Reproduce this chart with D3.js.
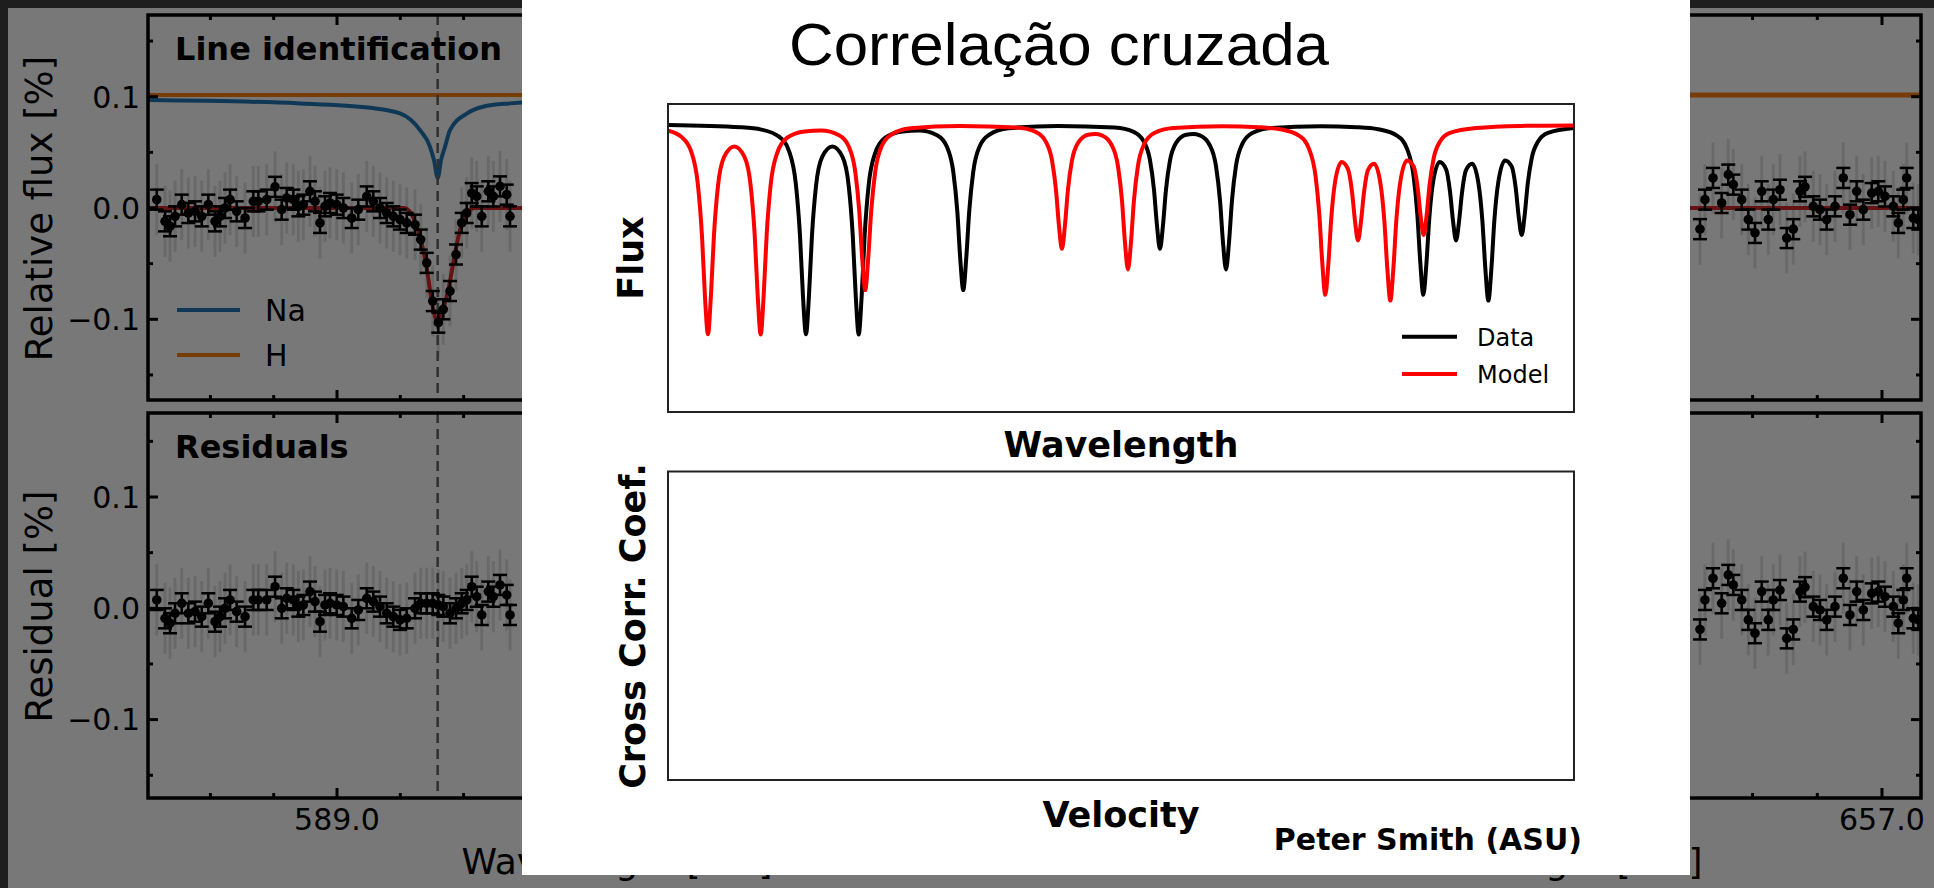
<!DOCTYPE html>
<meta charset="utf-8">
<style>
  body { margin: 0; background: #1e1e1e; }
  svg { display: block; }
  text { font-family: "DejaVu Sans", sans-serif; }
</style>
<body>
<svg id="chart" width="1934" height="888"></svg>
<script src="https://d3js.org/d3.v7.min.js"></script>
<script>
// ---------------- slide (foreground) ----------------
var titleText = "Correlação cruzada";
var creditText = "Peter Smith (ASU)";
var legendNames = ["Data", "Model"];
var legendColors = ["#000000", "#ff0000"];

// observed spectrum [wavelength (arb.), normalised flux]
var dataSpectrum = [
  [0, 1.0], [8, 0.991], [10.3, 0.982], [12.3, 0.954], [13.4, 0.896], [14.1, 0.777],
  [14.57, 0.576], [14.9, 0.342], [15.23, 0.198], [15.56, 0.347], [15.89, 0.576],
  [16.33, 0.764], [17.03, 0.878], [18.14, 0.917], [19.25, 0.878], [19.95, 0.765],
  [20.39, 0.578], [20.72, 0.346], [21.05, 0.197], [21.38, 0.347], [21.71, 0.579],
  [22.15, 0.770], [22.85, 0.89], [23.95, 0.95], [25.9, 0.975], [27.7, 0.978],
  [29.7, 0.96], [30.8, 0.915], [31.49, 0.82], [31.93, 0.67], [32.26, 0.486],
  [32.59, 0.367], [32.92, 0.49], [33.25, 0.67], [33.69, 0.82], [34.39, 0.917],
  [35.49, 0.963], [37.59, 0.987], [43, 0.996], [49.3, 0.99], [51.4, 0.973],
  [52.5, 0.937], [53.2, 0.865], [53.64, 0.752], [53.97, 0.615], [54.3, 0.525],
  [54.63, 0.614], [54.96, 0.75], [55.4, 0.862], [56.1, 0.932], [57.2, 0.962],
  [57.95, 0.965], [58.7, 0.96], [59.8, 0.922], [60.49, 0.841], [60.93, 0.71],
  [61.26, 0.549], [61.59, 0.446], [61.92, 0.55], [62.25, 0.711], [62.69, 0.843],
  [63.39, 0.927], [64.49, 0.969], [66.6, 0.988], [72, 0.995], [76, 0.991],
  [78.4, 0.983], [80.5, 0.958], [81.6, 0.906], [82.3, 0.802], [82.71, 0.656],
  [83.04, 0.47], [83.37, 0.349], [83.7, 0.464], [84.03, 0.643], [84.47, 0.786],
  [85.175, 0.858], [85.88, 0.83], [86.32, 0.743], [86.65, 0.631], [86.98, 0.557],
  [87.31, 0.63], [87.64, 0.741], [88.08, 0.827], [88.765, 0.851], [89.45, 0.777],
  [89.89, 0.631], [90.22, 0.447], [90.55, 0.327], [90.88, 0.448], [91.21, 0.634],
  [91.65, 0.782], [92.39, 0.864], [93.13, 0.84], [93.57, 0.757], [93.9, 0.648],
  [94.23, 0.578], [94.56, 0.656], [94.89, 0.774], [95.33, 0.872], [96.03, 0.936],
  [97.13, 0.969], [100, 0.988]
];

// template (model) spectrum, same lines sitting bluer
var modelSpectrum = [
  [0, 0.978], [1.48, 0.954], [2.58, 0.896], [3.28, 0.777], [3.75, 0.576],
  [4.08, 0.342], [4.41, 0.198], [4.74, 0.347], [5.07, 0.576], [5.51, 0.764],
  [6.21, 0.878], [7.32, 0.917], [8.43, 0.878], [9.13, 0.765], [9.57, 0.578],
  [9.9, 0.346], [10.23, 0.197], [10.56, 0.347], [10.89, 0.579], [11.33, 0.770],
  [12.03, 0.89], [13.13, 0.95], [15.08, 0.975], [16.88, 0.978], [18.88, 0.96],
  [19.98, 0.915], [20.67, 0.82], [21.11, 0.67], [21.44, 0.486], [21.77, 0.367],
  [22.1, 0.49], [22.43, 0.67], [22.87, 0.82], [23.57, 0.917], [24.67, 0.963],
  [26.77, 0.987], [32.18, 0.996], [38.48, 0.99], [40.58, 0.973], [41.68, 0.937],
  [42.38, 0.865], [42.82, 0.752], [43.15, 0.615], [43.48, 0.525], [43.81, 0.614],
  [44.14, 0.75], [44.58, 0.862], [45.28, 0.932], [46.38, 0.962], [47.13, 0.965],
  [47.88, 0.96], [48.98, 0.922], [49.67, 0.841], [50.11, 0.71], [50.44, 0.549],
  [50.77, 0.446], [51.1, 0.55], [51.43, 0.711], [51.87, 0.843], [52.57, 0.927],
  [53.67, 0.969], [55.78, 0.988], [61.18, 0.995], [65.18, 0.991], [67.58, 0.983],
  [69.68, 0.958], [70.78, 0.906], [71.48, 0.802], [71.89, 0.656], [72.22, 0.47],
  [72.55, 0.349], [72.88, 0.464], [73.21, 0.643], [73.65, 0.786], [74.355, 0.858],
  [75.06, 0.83], [75.5, 0.743], [75.83, 0.631], [76.16, 0.557], [76.49, 0.63],
  [76.82, 0.741], [77.26, 0.827], [77.945, 0.851], [78.63, 0.777], [79.07, 0.631],
  [79.4, 0.447], [79.73, 0.327], [80.06, 0.448], [80.39, 0.634], [80.83, 0.782],
  [81.57, 0.864], [82.31, 0.84], [82.75, 0.757], [83.08, 0.648], [83.41, 0.578],
  [83.74, 0.656], [84.07, 0.774], [84.51, 0.872], [85.21, 0.936], [86.31, 0.969],
  [89.18, 0.988], [94.18, 0.996], [100, 0.998]
];

// ---------------- dimmed figure behind the slide ----------------
var bgTitles = ["Line identification", "Residuals"];
var bgYLabels = ["Relative flux [%]", "Residual [%]"];
var bgXLabel = "Wavelength [nm]";
var bgXTickLabels = [[589.0], [657.0]];
var legendBg = ["Na", "H"];

// Na D region, binned points
var naWave = [588.7152, 588.7283, 588.7362, 588.7441, 588.7547, 588.7651, 588.7757, 588.7863,
  588.7967, 588.8073, 588.8152, 588.8231, 588.8310, 588.8415, 588.8547, 588.8678, 588.8757,
  588.8889, 588.9021, 588.9126, 588.9205, 588.9310, 588.9389, 588.9468, 588.9573, 588.9652,
  588.9731, 588.9810, 588.9889, 588.9995, 589.0100, 589.0232, 589.0336, 589.0469, 589.0573,
  589.0679, 589.0785, 589.0889, 589.0995, 589.1101, 589.1232, 589.1322, 589.1417, 589.1512,
  589.1600, 589.1679, 589.1785, 589.1880, 589.1970, 589.2049, 589.2128, 589.2207, 589.2286,
  589.2390, 589.2469, 589.2575, 589.2681, 589.2733];
var naFlux = [0.0075, -0.012, -0.0164, -0.0075, 0.003, -0.0045, -0.003, -0.0075, 0.003, -0.012,
  -0.0075, 0, 0.0075, -0.003, -0.009, 0.006, 0.006, 0.0075, 0.019, -0.0015, 0.009, 0.0075,
  0.0015, 0.003, 0.015, 0.006, -0.0134, 0.0015, 0.0045, 0.003, 0, -0.009, -0.0015, 0.0104,
  0.006, 0, -0.0045, -0.0075, -0.0104, -0.0134, -0.015, -0.0284, -0.0493, -0.0836, -0.103,
  -0.091, -0.0746, -0.0418, -0.0134, -0.0045, 0.0134, 0.0104, -0.0075, 0.015, 0.0104, 0.0194,
  0.012, -0.0075];
var naResid = [0.0075, -0.009, -0.0134, -0.0045, 0.0045, -0.0045, -0.003, -0.0075, 0.0045, -0.012,
  -0.0075, 0, 0.0075, -0.003, -0.0075, 0.0075, 0.0075, 0.0075, 0.0194, 0, 0.009, 0.0075,
  0.0015, 0.003, 0.015, 0.006, -0.012, 0.003, 0.0045, 0.003, 0.0015, -0.009, -0.0015, 0.009,
  0.006, 0.0015, -0.0045, -0.0075, -0.0104, -0.009, 0, 0.0045, 0.0045, 0.0045, 0.003,
  0.0015, -0.0045, 0, 0.0045, 0.0075, 0.0194, 0.0104, -0.006, 0.015, 0.0104, 0.021,
  0.012, -0.006];
var naModel = [[588.70, 0], [589.107, 0], [589.123, -0.012], [589.133, -0.03], [589.142, -0.055],
  [589.150, -0.085], [589.159, -0.102], [589.167, -0.092], [589.177, -0.07], [589.186, -0.042],
  [589.196, -0.016], [589.205, -0.004], [589.218, 0], [590.19, 0]];
var naLine = [[588.70, 0.097], [588.9416, 0.094], [589.0521, 0.090], [589.0995, 0.085],
  [589.1311, 0.070], [589.1469, 0.055], [589.1532, 0.043], [589.1591, 0.027], [589.1643, 0.043],
  [589.1706, 0.055], [589.1785, 0.070], [589.2054, 0.085], [589.2306, 0.091], [589.2733, 0.094],
  [589.3523, 0.096], [590.19, 0.098]];
var naCore = 589.159;
var hLevel = 0.1015;

// H-alpha region, binned points (model is flat there, so residual = flux)
var haWave = [656.7187, 656.7264, 656.7388, 656.7522, 656.7624, 656.7702, 656.7832, 656.7934,
  656.8037, 656.8141, 656.8243, 656.8320, 656.8423, 656.8527, 656.8629, 656.8733, 656.8810,
  656.8938, 656.9042, 656.9145, 656.9274, 656.9402, 656.9505, 656.9609, 656.9711, 656.9841,
  656.9943, 657.0046, 657.0175, 657.0252, 657.0329, 657.0382, 657.0484, 657.0561];
var haFlux = [-0.019, 0.0075, 0.027, 0.0045, 0.03, 0.021, 0.0075, -0.0104, -0.0224, 0.015,
  -0.0104, 0.0075, 0.0164, -0.027, -0.019, 0.015, 0.019, 0.0015, -0.0015, -0.0104, 0.0015,
  0.027, -0.006, 0.015, -0.0015, 0.0134, 0.015, 0.0104, 0.0015, -0.0134, 0.0075, 0.027,
  -0.009, -0.0104];
var binErr = 0.009;

var yTickMajor = [-0.1, 0, 0.1];
var yTickMinor = [-0.15, -0.05, 0.05, 0.15];

var W = 1934, H = 888;
var svg = d3.select("#chart");
var defs = svg.append("defs");
svg.append("rect").attr("width", W).attr("height", H).attr("fill", "#1e1e1e");

var bg = svg.append("g");
bg.append("rect").attr("x", 8).attr("y", 8).attr("width", W - 8).attr("height", H - 8).attr("fill", "#fff");

var cols = [
  {x: d3.scaleLinear().domain([588.7014, 590.1832]).range([148, 1086]), wave: naWave, flux: naFlux, resid: naResid},
  {x: d3.scaleLinear().domain([655.9042, 657.0603]).range([1173, 1921]), wave: haWave, flux: haFlux, resid: haFlux}
];
var rows = [
  {y: d3.scaleLinear().domain([-0.1, 0.1]).range([319.3, 96.7]), top: 15, bottom: 400},
  {y: d3.scaleLinear().domain([-0.1, 0.1]).range([719.6, 497]), top: 413, bottom: 798}
];

function stepTicks(dom, step) {
  return d3.range(Math.ceil(dom[0] / step - 1e-6), Math.floor(dom[1] / step + 1e-6) + 1)
    .map(function(k) { return +(k * step).toFixed(4); });
}

var fmt = d3.format(".1f");

rows.forEach(function(r, ri) {
  cols.forEach(function(c, ci) {
    var x = c.x, y = r.y;
    var x0 = x.range()[0], x1 = x.range()[1];
    var id = "bgclip" + ri + ci;
    defs.append("clipPath").attr("id", id).append("rect")
      .attr("x", x0).attr("y", r.top).attr("width", x1 - x0).attr("height", r.bottom - r.top);
    var g = bg.append("g").attr("clip-path", "url(#" + id + ")");
    var vals = ri == 0 ? c.flux : c.resid;
    var pts = c.wave.map(function(w, i) { return [w, vals[i]]; });

    // unbinned scatter, drawn faint
    g.selectAll(".raw").data(pts).enter().append("line")
      .attr("x1", function(d) { return x(d[0]); }).attr("x2", function(d) { return x(d[0]); })
      .attr("y1", function(d) { return y(d[1] - 0.032); }).attr("y2", function(d) { return y(d[1] + 0.032); })
      .attr("stroke", "#000").attr("stroke-opacity", 0.12).attr("stroke-width", 3);

    if (ri == 0) {
      var line = d3.line().x(function(d) { return x(d[0]); }).y(function(d) { return y(d[1]); }).curve(d3.curveMonotoneX);
      if (ci == 0) {
        g.append("path").datum(naLine).attr("d", line).attr("fill", "none").attr("stroke", "#1f77b4").attr("stroke-width", 4);
        g.append("path").datum(naModel).attr("d", line).attr("fill", "none").attr("stroke", "#d62728").attr("stroke-width", 4);
      } else {
        g.append("path").datum(x.domain().map(function(w) { return [w, 0]; })).attr("d", line)
          .attr("fill", "none").attr("stroke", "#d62728").attr("stroke-width", 4);
      }
      g.append("path").datum(x.domain().map(function(w) { return [w, hLevel]; })).attr("d", line)
        .attr("fill", "none").attr("stroke", "#ff7f0e").attr("stroke-width", ci == 0 ? 4 : 5);
    }

    if (ci == 0) {
      g.append("line").attr("x1", x(naCore)).attr("x2", x(naCore)).attr("y1", r.top).attr("y2", r.bottom)
        .attr("stroke", "#666").attr("stroke-width", 2.5).attr("stroke-dasharray", "10,6");
    }

    // error bars + points
    var eb = g.selectAll(".eb").data(pts).enter().append("g");
    eb.append("line")
      .attr("x1", function(d) { return x(d[0]); }).attr("x2", function(d) { return x(d[0]); })
      .attr("y1", function(d) { return y(d[1] - binErr); }).attr("y2", function(d) { return y(d[1] + binErr); })
      .attr("stroke", "#000").attr("stroke-width", 2.5);
    [-binErr, binErr].forEach(function(e) {
      eb.append("line")
        .attr("x1", function(d) { return x(d[0]) - 7; }).attr("x2", function(d) { return x(d[0]) + 7; })
        .attr("y1", function(d) { return y(d[1] + e); }).attr("y2", function(d) { return y(d[1] + e); })
        .attr("stroke", "#000").attr("stroke-width", 2.5);
    });
    eb.append("circle").attr("cx", function(d) { return x(d[0]); }).attr("cy", function(d) { return y(d[1]); })
      .attr("r", 4.8).attr("fill", "#000");

    // spines
    bg.append("rect").attr("x", x0).attr("y", r.top).attr("width", x1 - x0).attr("height", r.bottom - r.top)
      .attr("fill", "none").attr("stroke", "#000").attr("stroke-width", 3.5);

    // inward ticks on all four sides
    var tk = bg.append("g").attr("stroke", "#000").attr("stroke-width", 3);
    var xMinor = stepTicks(x.domain(), 0.1), xMajor = stepTicks(x.domain(), 0.5);
    xMinor.forEach(function(t) {
      var len = xMajor.indexOf(t) >= 0 ? 10 : 5;
      tk.append("line").attr("x1", x(t)).attr("x2", x(t)).attr("y1", r.top).attr("y2", r.top + len);
      tk.append("line").attr("x1", x(t)).attr("x2", x(t)).attr("y1", r.bottom).attr("y2", r.bottom - len);
    });
    yTickMajor.concat(yTickMinor).forEach(function(t) {
      var len = yTickMajor.indexOf(t) >= 0 ? 10 : 5;
      tk.append("line").attr("y1", y(t)).attr("y2", y(t)).attr("x1", x0).attr("x2", x0 + len);
      tk.append("line").attr("y1", y(t)).attr("y2", y(t)).attr("x1", x1).attr("x2", x1 - len);
    });

    if (ci == 0) {
      bg.selectAll(null).data(yTickMajor).enter().append("text")
        .attr("x", 140).attr("y", function(d) { return y(d); }).attr("dy", "0.36em")
        .attr("text-anchor", "end").style("font-size", "30px").attr("fill", "#000")
        .text(fmt);
      bg.append("text").attr("transform", "translate(52," + ((r.top + r.bottom) / 2 + 1) + ") rotate(-90)")
        .attr("text-anchor", "middle").style("font-size", "37px").attr("fill", "#000").text(bgYLabels[ri]);
      bg.append("text").attr("x", 175).attr("y", r.top + 45).style("font-size", "32px").style("font-weight", "bold")
        .attr("fill", "#000").text(bgTitles[ri]);
    }
    if (ri == 1) {
      bg.selectAll(null).data(bgXTickLabels[ci]).enter().append("text")
        .attr("x", function(d) { return x(d); }).attr("y", 830).attr("text-anchor", "middle")
        .style("font-size", "30px").attr("fill", "#000").text(fmt);
      bg.append("text").attr("x", (x0 + x1) / 2).attr("y", 874).attr("text-anchor", "middle")
        .style("font-size", "36px").attr("fill", "#000").text(bgXLabel);
    }
  });
});

// legend of the background figure
var bgLeg = bg.selectAll(".bgleg").data(legendBg).enter().append("g")
  .attr("transform", function(d, i) { return "translate(177," + (310 + i * 45) + ")"; });
bgLeg.append("line").attr("x1", 0).attr("x2", 63)
  .attr("stroke", function(d, i) { return ["#1f77b4", "#ff7f0e"][i]; }).attr("stroke-width", 4);
bgLeg.append("text").attr("x", 88).attr("dy", "0.36em").style("font-size", "30px").attr("fill", "#000")
  .text(function(d) { return d; });

// dim the whole background figure
bg.append("rect").attr("x", 8).attr("y", 8).attr("width", W - 8).attr("height", H - 8)
  .attr("fill", "#000").attr("fill-opacity", 0.53);

// ---------------- slide ----------------
var fg = svg.append("g");
fg.append("rect").attr("x", 522).attr("y", 0).attr("width", 1168).attr("height", 875).attr("fill", "#fff");

fg.append("text").attr("x", 1059).attr("y", 65).attr("text-anchor", "middle")
  .attr("textLength", 540).attr("lengthAdjust", "spacingAndGlyphs")
  .style("font-family", "'Liberation Sans', Arial, sans-serif").style("font-size", "59px")
  .attr("fill", "#000").text(titleText);

var px0 = 668, px1 = 1574;
var x = d3.scaleLinear().domain([0, 100]).range([px0, px1]);
var y = d3.scaleLinear().domain([-0.1, 1.08]).range([412, 104]);

defs.append("clipPath").attr("id", "specclip").append("rect")
  .attr("x", px0).attr("y", 104).attr("width", px1 - px0).attr("height", 308);

var spec = d3.line().x(function(d) { return x(d[0]); }).y(function(d) { return y(d[1]); }).curve(d3.curveMonotoneX);
var sg = fg.append("g").attr("clip-path", "url(#specclip)");
[dataSpectrum, modelSpectrum].forEach(function(s, i) {
  sg.append("path").datum(s).attr("d", spec).attr("fill", "none")
    .attr("stroke", legendColors[i]).attr("stroke-width", 4).attr("stroke-linejoin", "round");
});

// panel frames
var panels = [{top: 104, bottom: 412}, {top: 471.5, bottom: 780}];
panels.forEach(function(p) {
  fg.append("rect").attr("x", px0).attr("y", p.top).attr("width", px1 - px0).attr("height", p.bottom - p.top)
    .attr("fill", "none").attr("stroke", "#222").attr("stroke-width", 2);
});

// legend
var leg = fg.selectAll(".leg").data(legendNames).enter().append("g")
  .attr("transform", function(d, i) { return "translate(1402," + (336.7 + i * 37.3) + ")"; });
leg.append("line").attr("x1", 0).attr("x2", 55)
  .attr("stroke", function(d, i) { return legendColors[i]; }).attr("stroke-width", 4);
leg.append("text").attr("x", 75).attr("dy", "0.37em").style("font-size", "24px").attr("fill", "#000")
  .text(function(d) { return d; });

// axis labels
function boldText(t, xx, yy, size, rot, anchor) {
  fg.append("text").attr("transform", "translate(" + xx + "," + yy + ")" + (rot ? " rotate(-90)" : ""))
    .attr("text-anchor", anchor || "middle").style("font-size", size + "px").style("font-weight", "bold")
    .attr("fill", "#000").text(t);
}
boldText("Wavelength", 1121, 457, 35);
boldText("Velocity", 1121, 826.5, 35);
boldText("Flux", 643, 258, 35, true);
boldText("Cross Corr. Coef.", 645, 626, 35, true);
boldText(creditText, 1582, 850, 30, false, "end");
</script>
</body>
